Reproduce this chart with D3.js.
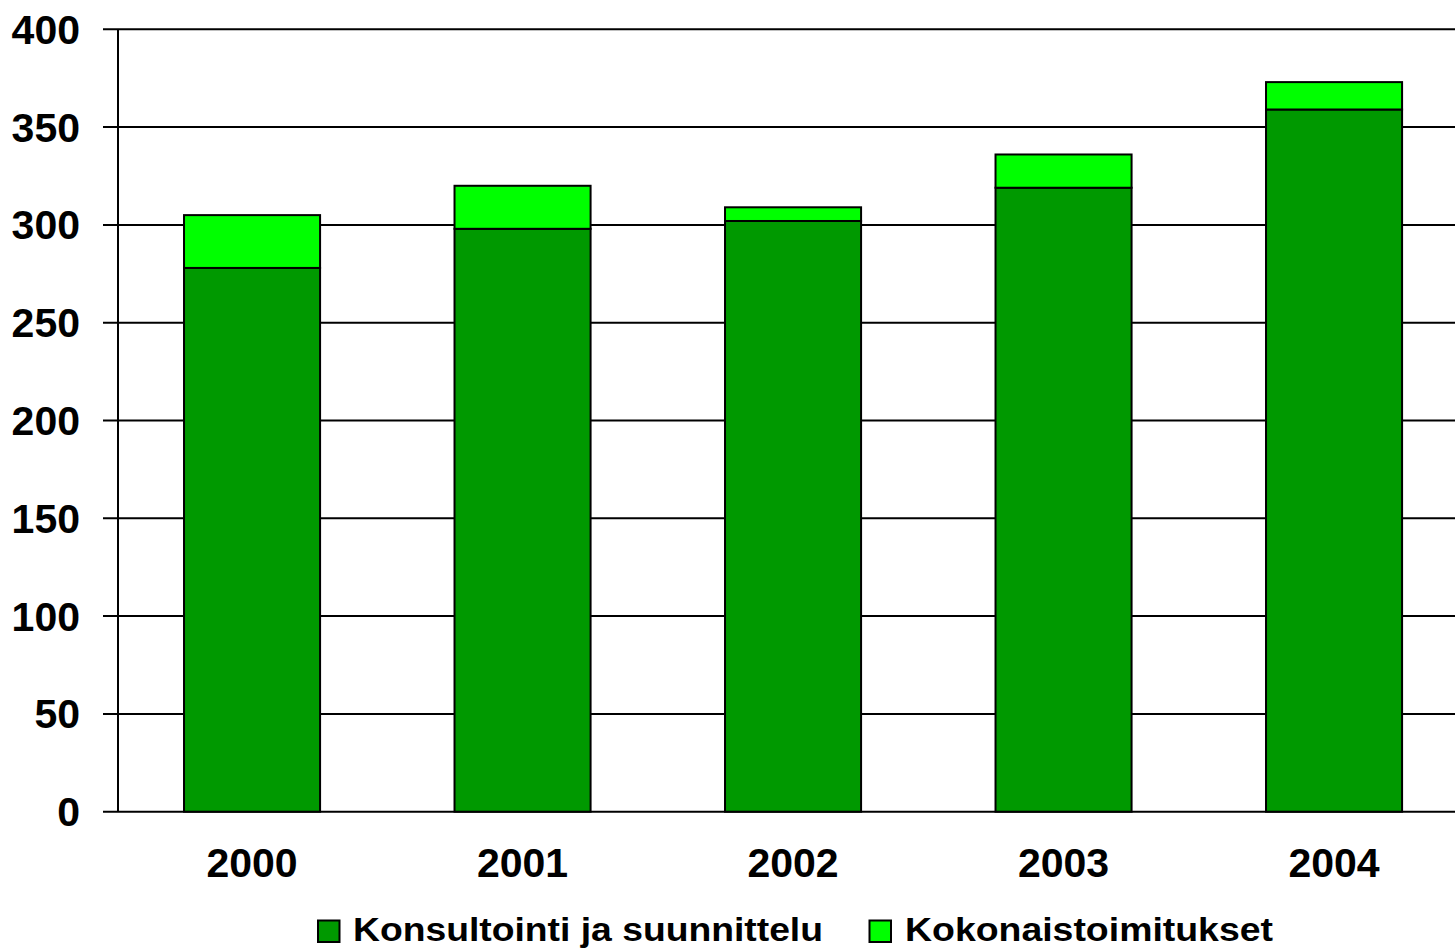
<!DOCTYPE html>
<html>
<head>
<meta charset="utf-8">
<script src="https://cdn.jsdelivr.net/npm/d3@7"></script>
<style>
  html, body { margin: 0; padding: 0; background: #fff; }
  svg { display: block; font-family: "Liberation Sans", Arial, sans-serif; font-weight: bold; }
</style>
</head>
<body>
<svg id="chart" width="1455" height="950"></svg>
<script>
const categories = ["2000", "2001", "2002", "2003", "2004"];
const seriesNames = ["Konsultointi ja suunnittelu", "Kokonaistoimitukset"];
const konsultointi = [278, 298, 302, 319, 359];
const kokonais = [27, 22, 7, 17, 14];
const yTicks = [0, 50, 100, 150, 200, 250, 300, 350, 400];
const colors = ["#009900", "#00FF00"];

const svg = d3.select("#chart");
const x = d3.scaleBand().domain(categories).range([116.8, 1469.3]).paddingInner(0.497).paddingOuter(0.2485);
const y = d3.scaleLinear().domain([0, 400]).range([811.7, 29.3]);

// gridlines
svg.append("g").selectAll("line").data(yTicks).join("line")
  .attr("x1", 103).attr("x2", 1470)
  .attr("y1", d => y(d)).attr("y2", d => y(d))
  .attr("stroke", "#000").attr("stroke-width", 2);

// y axis line
svg.append("line").attr("x1", 118).attr("x2", 118)
  .attr("y1", y(400)).attr("y2", y(0)).attr("stroke", "#000").attr("stroke-width", 2);

// y labels
svg.append("g").selectAll("text").data(yTicks).join("text")
  .attr("x", 80).attr("y", d => y(d) + 14.5)
  .attr("text-anchor", "end").attr("font-size", 41).attr("fill", "#000")
  .text(d => d);

// stacked data
const rows = categories.map((c, i) => ({cat: c, a: konsultointi[i], b: kokonais[i]}));
const stack = d3.stack().keys(["a", "b"])(rows);

svg.append("g").selectAll("g").data(stack).join("g")
  .attr("fill", (d, i) => colors[i])
  .selectAll("rect").data(d => d).join("rect")
  .attr("x", d => x(d.data.cat))
  .attr("width", x.bandwidth())
  .attr("y", d => y(d[1]))
  .attr("height", d => y(d[0]) - y(d[1]))
  .attr("stroke", "#000").attr("stroke-width", 2);

// x labels
svg.append("g").selectAll("text").data(categories).join("text")
  .attr("x", d => x(d) + x.bandwidth() / 2).attr("y", 876.5)
  .attr("text-anchor", "middle").attr("font-size", 41).attr("fill", "#000")
  .text(d => d);

// legend
const legendItems = [
  {name: seriesNames[0], color: colors[0], sx: 318, tx: 353, w: 470},
  {name: seriesNames[1], color: colors[1], sx: 869.5, tx: 905, w: 368}
];
const lg = svg.append("g");
legendItems.forEach(it => {
  lg.append("rect").attr("x", it.sx).attr("y", 920.5).attr("width", 21.5).attr("height", 21.5)
    .attr("fill", it.color).attr("stroke", "#000").attr("stroke-width", 2);
  lg.append("text").attr("x", it.tx).attr("y", 941).attr("font-size", 34).attr("fill", "#000")
    .attr("textLength", it.w).attr("lengthAdjust", "spacingAndGlyphs")
    .text(it.name);
});
</script>
</body>
</html>
